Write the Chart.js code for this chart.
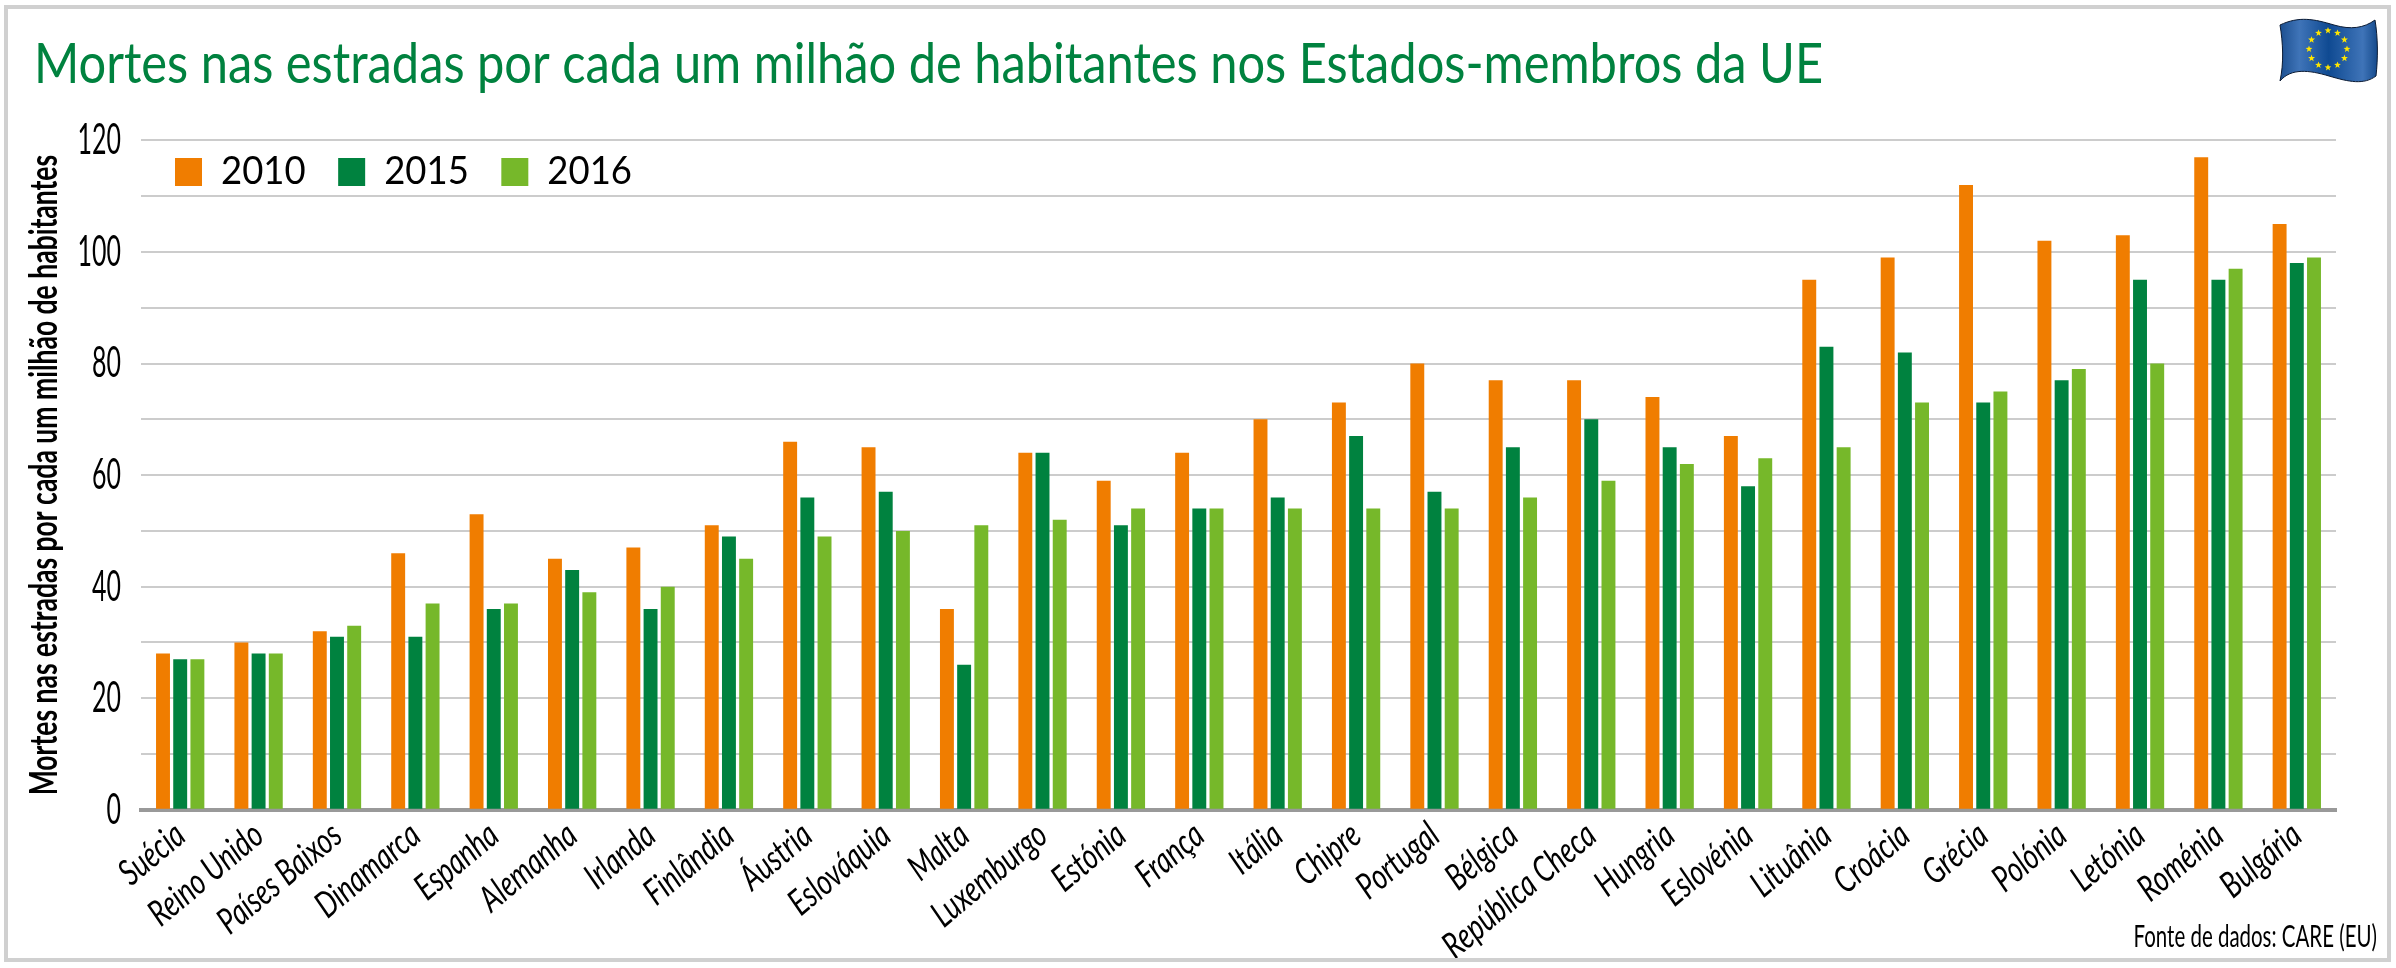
<!DOCTYPE html>
<html lang="pt">
<head>
<meta charset="utf-8">
<title>Mortes nas estradas</title>
<script src="https://cdn.jsdelivr.net/npm/chart.js@4"></script>
<style>
  html, body { margin: 0; padding: 0; background: #fff; }
  #wrap { position: relative; width: 2396px; height: 968px; overflow: hidden; }
  #frame { position: absolute; left: 4px; top: 5px; width: 2379px; height: 949px; border: 4px solid #d0d0d0; }
  #flag { position: absolute; left: 2279px; top: 18px; }
  canvas { position: absolute; left: 0; top: 0; }
</style>
</head>
<body>
<div id="wrap">
  <canvas id="chart" width="2396" height="968"></canvas>
  <div id="frame"></div>
  <svg id="flag" width="100" height="66" viewBox="0 0 100 66">
    <defs>
      <linearGradient id="blue" x1="0" x2="1" y1="0" y2="0">
        <stop offset="0" stop-color="#1c4f90"/>
        <stop offset="0.2" stop-color="#3f74b8"/>
        <stop offset="0.5" stop-color="#0f4a92"/>
        <stop offset="0.85" stop-color="#3f74b8"/>
        <stop offset="1" stop-color="#154a8c"/>
      </linearGradient>
    </defs>
    <path d="M1 7 C20 -2 35 1 55 7 C72 12 85 10 96 2 C99 20 99 40 97 58 C85 67 70 64 50 58 C30 52 12 50 1 63 C5 45 4 25 1 7 Z" fill="url(#blue)" stroke="#0a1a33" stroke-width="1"/>
    <g id="stars" fill="#ffe600"></g>
  </svg>
</div>
<script>
const countries = ['Suécia', 'Reino Unido', 'Países Baixos', 'Dinamarca', 'Espanha', 'Alemanha', 'Irlanda', 'Finlândia', 'Áustria', 'Eslováquia', 'Malta', 'Luxemburgo', 'Estónia', 'França', 'Itália', 'Chipre', 'Portugal', 'Bélgica', 'República Checa', 'Hungria', 'Eslovénia', 'Lituânia', 'Croácia', 'Grécia', 'Polónia', 'Letónia', 'Roménia', 'Bulgária'];
const deaths2010 = [28, 30, 32, 46, 53, 45, 47, 51, 66, 65, 36, 64, 59, 64, 70, 73, 80, 77, 77, 74, 67, 95, 99, 112, 102, 103, 117, 105];
const deaths2015 = [27, 28, 31, 31, 36, 43, 36, 49, 56, 57, 26, 64, 51, 54, 56, 67, 57, 65, 70, 65, 58, 83, 82, 73, 77, 95, 95, 98];
const deaths2016 = [27, 28, 33, 37, 37, 39, 40, 45, 49, 50, 51, 52, 54, 54, 54, 54, 54, 56, 59, 62, 63, 65, 73, 75, 79, 80, 97, 99];

const FONT = 'Lato, sans-serif';
const ORANGE = '#f07d00';
const DARK_GREEN = '#00823f';
const LIGHT_GREEN = '#76b82a';

// stars on the flag
const starGroup = document.getElementById('stars');
for (let i = 0; i < 12; i++) {
  const a = i * Math.PI / 6;
  const cx = 49 + 19 * Math.cos(a), cy = 31 + 18.5 * Math.sin(a);
  let pts = '';
  for (let k = 0; k < 10; k++) {
    const r = k % 2 ? 1.5 : 3.6, t = -Math.PI / 2 + k * Math.PI / 5;
    pts += (cx + r * Math.cos(t)).toFixed(1) + ',' + (cy + r * Math.sin(t)).toFixed(1) + ' ';
  }
  const star = document.createElementNS('http://www.w3.org/2000/svg', 'polygon');
  star.setAttribute('points', pts);
  starGroup.appendChild(star);
}

const canvas = document.getElementById('chart');
const ctx = canvas.getContext('2d');

// no condensed font is installed, so squeeze the text per font size
const squeeze = { 57: 0.856, 43: 0.58, 39: 0.68, 38: 0.96, 36: 0.76, 31: 0.66 };
const plainFillText = ctx.fillText.bind(ctx);
ctx.fillText = (text, x, y) => {
  const size = parseFloat(ctx.font.match(/([\d.]+)px/)[1]);
  ctx.save();
  ctx.translate(x, y);
  ctx.scale(squeeze[size] || 1, 1);
  plainFillText(text, 0, 0);
  ctx.restore();
};

const barOpts = { categoryPercentage: 0.658, barPercentage: 0.81 };

const placeBoxes = {
  id: 'placeBoxes',
  beforeLayout(chart) {
    // legend in a row inside the plot
    chart.legend.isHorizontal = () => true;
  },
  beforeDraw(chart) {
    chart.legend.top = 124;
    chart.legend.left = 146;
    // long country names run past the axis box, next to the source line
    chart.scales.x.bottom = 960;
    chart.boxes.find(b => b.position === 'bottom' && b.options.text).right = 2377;
  },
};

new Chart(ctx, {
  type: 'bar',
  plugins: [placeBoxes],
  data: {
    labels: countries,
    datasets: [
      { label: '2010', data: deaths2010, backgroundColor: ORANGE, ...barOpts },
      { label: '2015', data: deaths2015, backgroundColor: DARK_GREEN, ...barOpts },
      { label: '2016', data: deaths2016, backgroundColor: LIGHT_GREEN, ...barOpts },
    ],
  },
  options: {
    responsive: false,
    devicePixelRatio: 1,
    animation: false,
    layout: { padding: { left: 34, right: 60, top: 30, bottom: 12 } },
    plugins: {
      tooltip: { enabled: false },
      title: {
        display: true,
        text: 'Mortes nas estradas por cada um milhão de habitantes nos Estados-membros da UE',
        align: 'start',
        color: DARK_GREEN,
        font: { family: FONT, size: 57, weight: 'normal', lineHeight: 1.2 },
        padding: { top: 0, bottom: 42 },
      },
      subtitle: {
        display: true,
        position: 'bottom',
        text: 'Fonte de dados: CARE (EU)',
        align: 'end',
        color: '#000',
        font: { family: FONT, size: 31, weight: 'normal', lineHeight: 1.2 },
        padding: 0,
      },
      legend: {
        position: 'chartArea',
        align: 'start',
        labels: {
          boxWidth: 27,
          boxHeight: 28,
          padding: 29,
          color: '#000',
          font: { family: FONT, size: 38 },
        },
      },
    },
    scales: {
      x: {
        afterFit(scale) { scale.height = 109; },
        grid: { display: false, drawTicks: false },
        border: { color: '#999', width: 4 },
        ticks: {
          autoSkip: false,
          minRotation: 40,
          maxRotation: 40,
          padding: 4,
          color: '#000',
          font: { family: FONT, size: 36, style: 'italic' },
        },
      },
      y: {
        min: 0,
        max: 120,
        afterFit(scale) { scale.width = 107; },
        grid: { color: '#cccccc', lineWidth: 2, drawTicks: false },
        border: { display: false },
        title: {
          display: true,
          text: 'Mortes nas estradas por cada um milhão de habitantes',
          color: '#000',
          font: { family: FONT, size: 39, weight: 'bold' },
          padding: { top: -13, bottom: 0 },
        },
        ticks: {
          stepSize: 10,
          autoSkip: false,
          padding: 20,
          color: '#000',
          font: { family: FONT, size: 43 },
          callback: v => (v % 20 === 0 ? v : ''),
        },
      },
    },
  },
});
</script>
</body>
</html>
